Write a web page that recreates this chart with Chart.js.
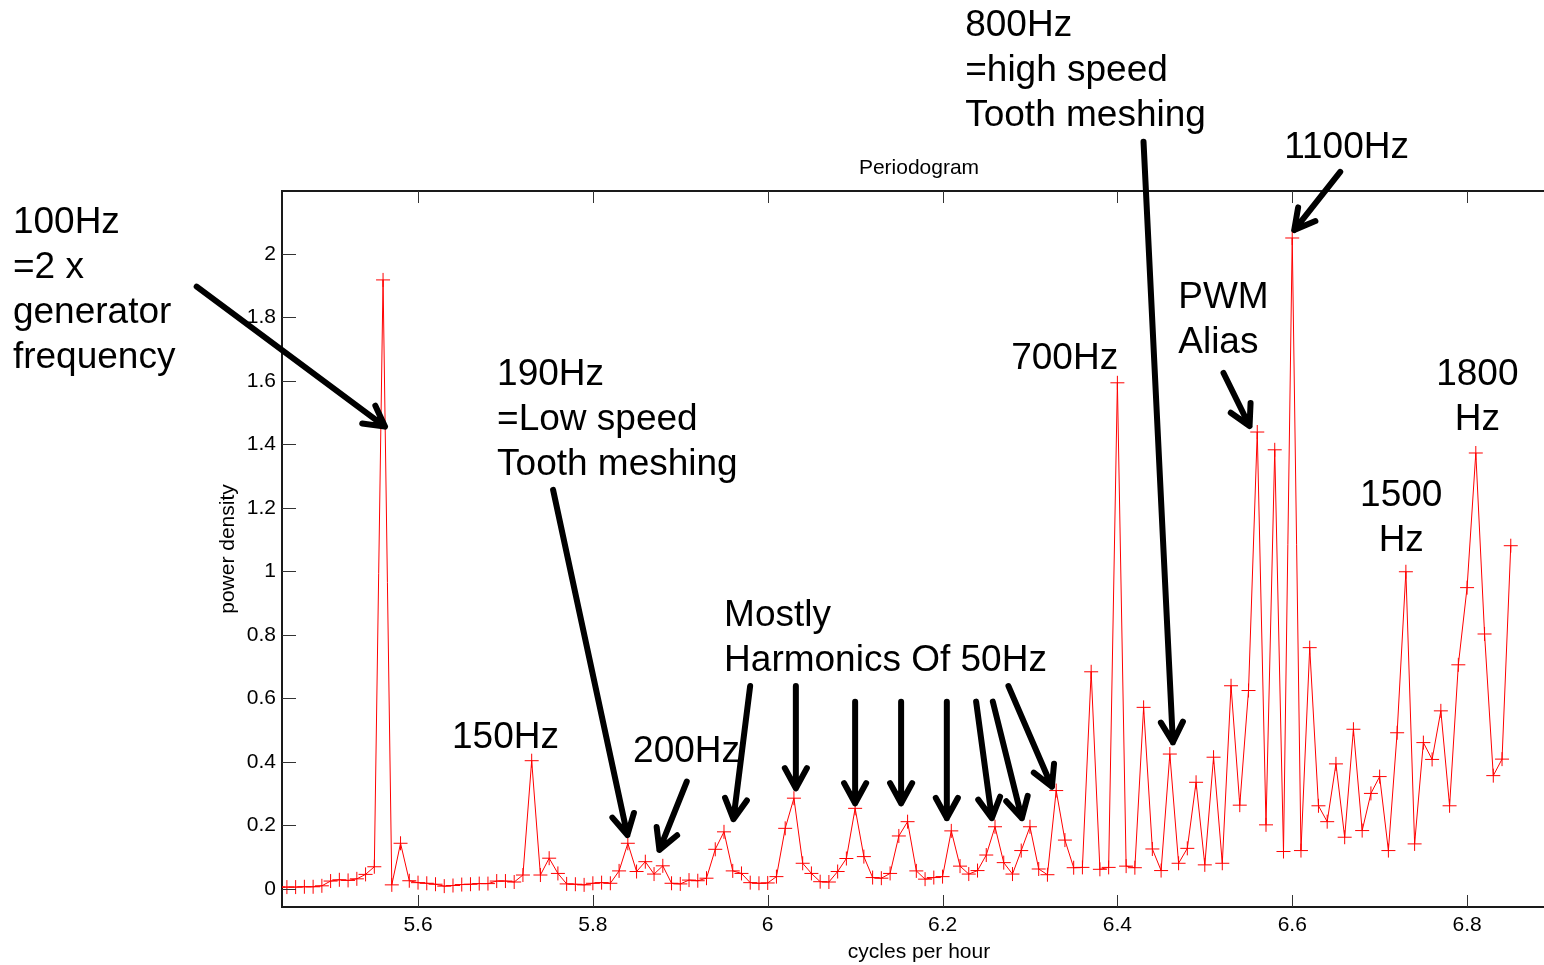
<!DOCTYPE html>
<html>
<head>
<meta charset="utf-8">
<script src="https://cdn.jsdelivr.net/npm/chart.js@4.4.1/dist/chart.umd.min.js"></script>
<style>
  html, body { margin: 0; padding: 0; background: #fff; }
  canvas { display: block; }
</style>
</head>
<body>
<canvas id="periodogram" width="1544" height="965"></canvas>
<script>
// frequency axis (cycles per hour)
const freq = [
  5.44, 5.45, 5.46, 5.47, 5.48, 5.49, 5.50, 5.51, 5.52, 5.53,
  5.54, 5.55, 5.56, 5.57, 5.58, 5.59, 5.60, 5.61, 5.62, 5.63,
  5.64, 5.65, 5.66, 5.67, 5.68, 5.69, 5.70, 5.71, 5.72, 5.73,
  5.74, 5.75, 5.76, 5.77, 5.78, 5.79, 5.80, 5.81, 5.82, 5.83,
  5.84, 5.85, 5.86, 5.87, 5.88, 5.89, 5.90, 5.91, 5.92, 5.93,
  5.94, 5.95, 5.96, 5.97, 5.98, 5.99, 6.00, 6.01, 6.02, 6.03,
  6.04, 6.05, 6.06, 6.07, 6.08, 6.09, 6.10, 6.11, 6.12, 6.13,
  6.14, 6.15, 6.16, 6.17, 6.18, 6.19, 6.20, 6.21, 6.22, 6.23,
  6.24, 6.25, 6.26, 6.27, 6.28, 6.29, 6.30, 6.31, 6.32, 6.33,
  6.34, 6.35, 6.36, 6.37, 6.38, 6.39, 6.40, 6.41, 6.42, 6.43,
  6.44, 6.45, 6.46, 6.47, 6.48, 6.49, 6.50, 6.51, 6.52, 6.53,
  6.54, 6.55, 6.56, 6.57, 6.58, 6.59, 6.60, 6.61, 6.62, 6.63,
  6.64, 6.65, 6.66, 6.67, 6.68, 6.69, 6.70, 6.71, 6.72, 6.73,
  6.74, 6.75, 6.76, 6.77, 6.78, 6.79, 6.80, 6.81, 6.82, 6.83,
  6.84, 6.85
];

// power density
const power = [
  0.006, 0.006, 0.006, 0.007, 0.007, 0.010, 0.025, 0.029, 0.027, 0.032,
  0.046, 0.070, 1.918, 0.013, 0.144, 0.026, 0.020, 0.018, 0.015, 0.009,
  0.011, 0.014, 0.015, 0.017, 0.017, 0.025, 0.025, 0.022, 0.044, 0.404,
  0.044, 0.097, 0.049, 0.016, 0.015, 0.013, 0.018, 0.020, 0.018, 0.057,
  0.144, 0.055, 0.086, 0.047, 0.073, 0.018, 0.016, 0.028, 0.026, 0.034,
  0.125, 0.180, 0.057, 0.049, 0.020, 0.018, 0.019, 0.039, 0.191, 0.286,
  0.081, 0.049, 0.023, 0.022, 0.055, 0.096, 0.254, 0.102, 0.036, 0.034,
  0.049, 0.167, 0.212, 0.057, 0.031, 0.036, 0.039, 0.183, 0.072, 0.047,
  0.058, 0.107, 0.196, 0.083, 0.047, 0.121, 0.196, 0.063, 0.045, 0.310,
  0.154, 0.067, 0.068, 0.684, 0.062, 0.068, 1.594, 0.072, 0.067, 0.572,
  0.126, 0.058, 0.425, 0.081, 0.128, 0.336, 0.076, 0.415, 0.081, 0.640,
  0.264, 0.625, 1.439, 0.202, 1.383, 0.118, 2.050, 0.121, 0.760, 0.262,
  0.212, 0.394, 0.163, 0.503, 0.184, 0.301, 0.354, 0.121, 0.492, 0.999,
  0.142, 0.461, 0.408, 0.561, 0.262, 0.706, 0.949, 1.373, 0.803, 0.357,
  0.409, 1.081
];

const xTicks = [5.6, 5.8, 6, 6.2, 6.4, 6.6, 6.8];
const yTicks = [0, 0.2, 0.4, 0.6, 0.8, 1, 1.2, 1.4, 1.6, 1.8, 2];

// text notes, anchored in data units (x, y of the first line)
const notes = [
  { lines: ["100Hz", "=2 x", "generator", "frequency"], x: 5.1366, y: 2.097, align: "left" },
  { lines: ["190Hz", "=Low speed", "Tooth meshing"], x: 5.6904, y: 1.618, align: "left" },
  { lines: ["150Hz"], x: 5.6389, y: 0.475, align: "left" },
  { lines: ["200Hz"], x: 5.846, y: 0.431, align: "left" },
  { lines: ["Mostly", "Harmonics Of 50Hz"], x: 5.9501, y: 0.859, align: "left" },
  { lines: ["700Hz"], x: 6.2785, y: 1.669, align: "left" },
  { lines: ["800Hz", "=high speed", "Tooth meshing"], x: 6.2259, y: 2.718, align: "left" },
  { lines: ["1100Hz"], x: 6.5908, y: 2.333, align: "left" },
  { lines: ["PWM", "Alias"], x: 6.4696, y: 1.861, align: "left" },
  { lines: ["1800", "Hz"], x: 6.8117, y: 1.618, align: "center" },
  { lines: ["1500", "Hz"], x: 6.7247, y: 1.237, align: "center" }
];

// arrows: [tailX, tailY, tipX, tipY] in data units
const arrows = [
  [5.3468, 1.897, 5.5622, 1.456],
  [5.7545, 1.257, 5.8395, 0.170],
  [5.9074, 0.338, 5.8761, 0.123],
  [5.9799, 0.639, 5.9608, 0.220],
  [6.0322, 0.639, 6.0322, 0.317],
  [6.1000, 0.590, 6.1000, 0.270],
  [6.1526, 0.590, 6.1526, 0.270],
  [6.2049, 0.590, 6.2049, 0.223],
  [6.2384, 0.590, 6.2564, 0.223],
  [6.2575, 0.590, 6.2907, 0.223],
  [6.2754, 0.639, 6.3251, 0.322],
  [6.4299, 2.353, 6.4635, 0.462],
  [6.6549, 2.258, 6.6023, 2.075],
  [6.5214, 1.625, 6.5512, 1.458]
];

const FONT = '"Liberation Sans", Arial, Helvetica, sans-serif';

const decorations = {
  id: "decorations",
  afterDraw(chart) {
    const ctx = chart.ctx;
    const area = chart.chartArea;
    const xs = chart.scales.x, ys = chart.scales.y;
    ctx.save();

    // box top line
    ctx.strokeStyle = "#1a1a1a";
    ctx.lineWidth = 2;
    ctx.beginPath();
    ctx.moveTo(area.left - 1, area.top);
    ctx.lineTo(chart.width, area.top);
    ctx.stroke();

    // inward tick marks
    ctx.strokeStyle = "#333";
    ctx.lineWidth = 1;
    ctx.beginPath();
    xTicks.forEach(v => {
      const px = Math.round(xs.getPixelForValue(v)) + 0.5;
      ctx.moveTo(px, area.bottom); ctx.lineTo(px, area.bottom - 12);
      ctx.moveTo(px, area.top); ctx.lineTo(px, area.top + 12);
    });
    yTicks.forEach(v => {
      const py = Math.round(ys.getPixelForValue(v)) + 0.5;
      ctx.moveTo(area.left, py); ctx.lineTo(area.left + 14, py);
    });
    ctx.stroke();

    // titles
    ctx.fillStyle = "#000";
    ctx.font = "21px " + FONT;
    ctx.textAlign = "center";
    ctx.textBaseline = "middle";
    const midX = (area.left + area.right) / 2 + 6;
    ctx.fillText("Periodogram", midX, area.top - 23);
    ctx.fillText("cycles per hour", midX, area.bottom + 45);
    ctx.save();
    ctx.translate(area.left - 54, (area.top + area.bottom) / 2);
    ctx.rotate(-Math.PI / 2);
    ctx.fillText("power density", 0, 0);
    ctx.restore();

    // annotations
    ctx.font = "37px " + FONT;
    notes.forEach(n => {
      ctx.textAlign = n.align;
      const x = xs.getPixelForValue(n.x);
      const y = ys.getPixelForValue(n.y);
      n.lines.forEach((t, i) => ctx.fillText(t, x, y + i * 45));
    });

    ctx.strokeStyle = "#000";
    ctx.lineWidth = 6;
    ctx.lineCap = "round";
    ctx.lineJoin = "round";
    arrows.forEach(a => {
      const x0 = xs.getPixelForValue(a[0]), y0 = ys.getPixelForValue(a[1]);
      const x1 = xs.getPixelForValue(a[2]), y1 = ys.getPixelForValue(a[3]);
      const ang = Math.atan2(y1 - y0, x1 - x0);
      const len = 23, spread = 0.5;
      ctx.beginPath();
      ctx.moveTo(x0, y0);
      ctx.lineTo(x1, y1);
      ctx.moveTo(x1 - len * Math.cos(ang - spread), y1 - len * Math.sin(ang - spread));
      ctx.lineTo(x1, y1);
      ctx.lineTo(x1 - len * Math.cos(ang + spread), y1 - len * Math.sin(ang + spread));
      ctx.stroke();
    });

    ctx.restore();
  }
};

new Chart(document.getElementById("periodogram"), {
  type: "line",
  data: {
    datasets: [
      {
        label: "power density",
        data: freq.map((f, i) => ({ x: f, y: power[i] })),
        borderColor: "#ff0000",
        borderWidth: 1,
        pointStyle: "cross",
        pointRadius: 7,
        pointBorderColor: "#ff0000",
        pointBorderWidth: 1,
        tension: 0,
        fill: false,
      },
    ],
  },
  options: {
    responsive: false,
    animation: false,
    layout: { autoPadding: false, padding: { top: 191, left: 0, right: 0, bottom: 0 } },
    plugins: {
      legend: { display: false },
      tooltip: { enabled: false },
    },
    scales: {
      x: {
        type: "linear",
        min: 5.4444,
        max: 6.888,
        afterBuildTicks: (scale) => { scale.ticks = xTicks.map(v => ({ value: v })); },
        afterFit: (scale) => {
          scale.height = 58;
          scale.paddingLeft = 0;
          scale.paddingRight = 0;
        },
        grid: { display: false, drawTicks: false },
        border: { display: true, color: "#1a1a1a", width: 2 },
        ticks: {
          color: "#000",
          font: { family: FONT, size: 21 },
          padding: 6,
          maxRotation: 0,
          callback: (v) => String(v),
        },
      },
      y: {
        type: "linear",
        min: -0.0567,
        max: 2.198,
        afterBuildTicks: (scale) => { scale.ticks = yTicks.map(v => ({ value: v })); },
        afterFit: (scale) => { scale.width = 282; },
        grid: { display: false, drawTicks: false },
        border: { display: true, color: "#1a1a1a", width: 2 },
        ticks: {
          color: "#000",
          font: { family: FONT, size: 21 },
          padding: 6,
          callback: (v) => String(v),
        },
      },
    },
  },
  plugins: [decorations],
});
</script>
</body>
</html>
